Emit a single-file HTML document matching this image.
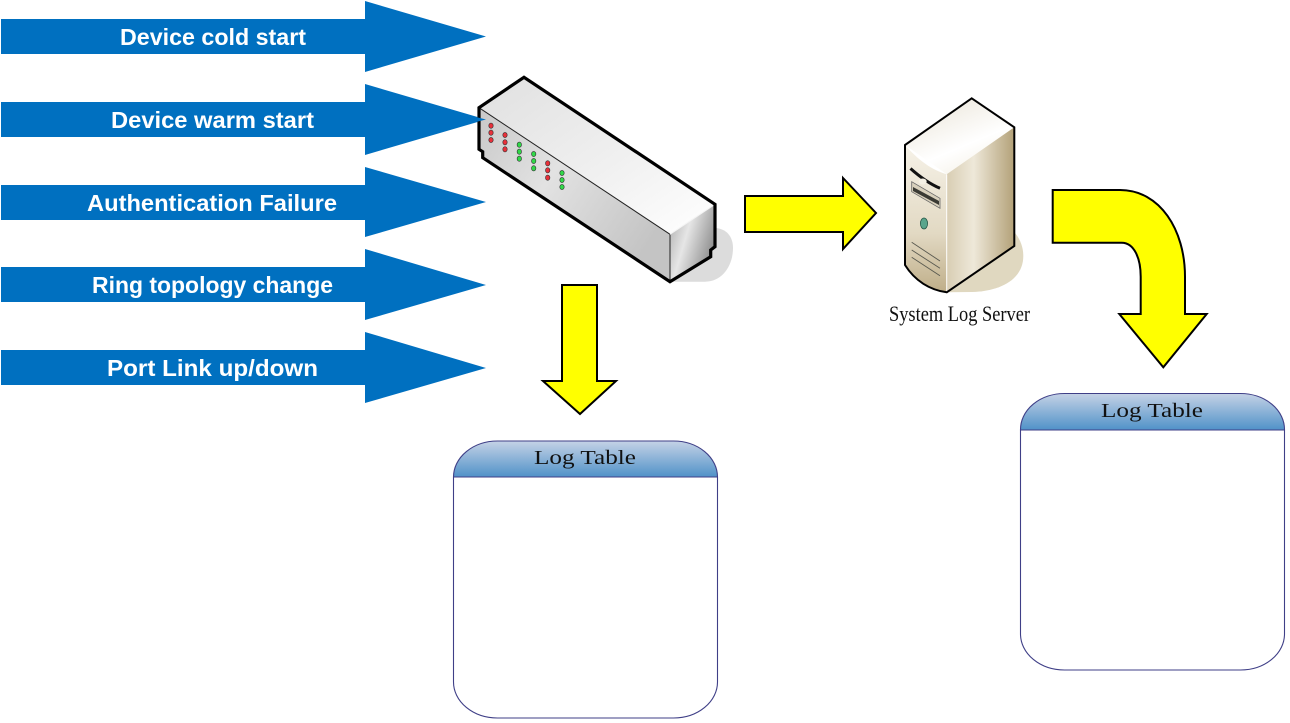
<!DOCTYPE html>
<html><head><meta charset="utf-8"><style>html,body{margin:0;padding:0;background:#fff;width:1290px;height:723px;overflow:hidden}svg{display:block}</style></head>
<body>
<svg width="1290" height="723" viewBox="0 0 1290 723" xmlns="http://www.w3.org/2000/svg">
<defs>
<linearGradient id="hdr" x1="0" y1="0" x2="0" y2="1"><stop offset="0" stop-color="#c5d2e6"/><stop offset="1" stop-color="#5092c8"/></linearGradient>
<linearGradient id="swTop" x1="0" y1="0" x2="1" y2="1"><stop offset="0" stop-color="#e0e0e0"/><stop offset="0.55" stop-color="#f0f0f0"/><stop offset="1" stop-color="#ffffff"/></linearGradient>
<linearGradient id="swFront" x1="0" y1="0" x2="1" y2="0.6"><stop offset="0" stop-color="#c8c8c8"/><stop offset="0.45" stop-color="#e2e2e2"/><stop offset="1" stop-color="#c4c4c4"/></linearGradient>
<linearGradient id="swEnd" x1="0" y1="0" x2="1" y2="0.5"><stop offset="0" stop-color="#a8a8a8"/><stop offset="0.45" stop-color="#e6e6e6"/><stop offset="1" stop-color="#8f8f8f"/></linearGradient>
<linearGradient id="srvTop" x1="0" y1="0" x2="0.6" y2="1"><stop offset="0" stop-color="#e8e2d4"/><stop offset="0.7" stop-color="#ffffff"/><stop offset="1" stop-color="#f6f3ea"/></linearGradient>
<linearGradient id="srvFront" x1="0" y1="0" x2="0" y2="1"><stop offset="0" stop-color="#f6f2e8"/><stop offset="0.6" stop-color="#e2d9c3"/><stop offset="1" stop-color="#bfae88"/></linearGradient>
<linearGradient id="srvSide" x1="0" y1="0" x2="1" y2="0"><stop offset="0" stop-color="#d8cdb3"/><stop offset="0.4" stop-color="#eee8d9"/><stop offset="1" stop-color="#b3a178"/></linearGradient>
</defs>

<!-- blue arrows -->
<g fill="#0070C0">
<polygon points="1,19 365,19 365,1 486,36.500 365,72 365,54 1,54"/>
<polygon points="1,102 365,102 365,84 486,119.500 365,155 365,137 1,137"/>
<polygon points="1,185 365,185 365,167 486,202 365,237 365,220 1,220"/>
<polygon points="1,267 365,267 365,249 486,285 365,320 365,302 1,302"/>
<polygon points="1,350 365,350 365,332 486,368 365,403 365,385 1,385"/>
</g>
<g fill="#fff" font-family="'Liberation Sans',sans-serif" font-weight="700" font-size="23">
<text x="120" y="45" textLength="186" lengthAdjust="spacingAndGlyphs">Device cold start</text>
<text x="111" y="128" textLength="203" lengthAdjust="spacingAndGlyphs">Device warm start</text>
<text x="87" y="211" textLength="250" lengthAdjust="spacingAndGlyphs">Authentication Failure</text>
<text x="92" y="293" textLength="241" lengthAdjust="spacingAndGlyphs">Ring topology change</text>
<text x="107" y="376" textLength="211" lengthAdjust="spacingAndGlyphs">Port Link up/down</text>
</g>

<!-- switch -->
<path d="M670,281.700 L705,281.700 C722,281.700 733,266 733,248 C733,236 726,229 716,228 Z" fill="#dcdcdc"/>
<polygon points="479,107.700 524,77.300 715,204.300 670,234.300" fill="url(#swTop)"/>
<polygon points="479,107.700 670,234.300 670,281.700 482.700,157.700 482.700,151.700 479,149.300" fill="url(#swFront)"/>
<polygon points="670,234.300 715,204.300 715,246.700 710.700,250 710.700,256.700 670,281.700" fill="url(#swEnd)"/>
<path d="M479,107.700 L670,234.300 V281.700" stroke="#222" stroke-width="1" fill="none"/>
<path d="M670,234.300 L715,204.300" stroke="#f4f4f4" stroke-width="1" fill="none"/>
<polygon points="479,107.700 524,77.300 715,204.300 715,246.700 710.700,250 710.700,256.700 670,281.700 482.700,157.700 482.700,151.700 479,149.300" fill="none" stroke="#000" stroke-width="3.200"/>
<polygon points="470,115.500 486,119.500 470,123.500" fill="#0070C0"/>
<g stroke="#333" stroke-width="0.6">
<g fill="#e8303a">
<ellipse cx="491" cy="125.700" rx="2.200" ry="2.600"/><ellipse cx="491" cy="132.700" rx="2.200" ry="2.600"/><ellipse cx="491" cy="140" rx="2.200" ry="2.600"/>
<ellipse cx="505" cy="135" rx="2.200" ry="2.600"/><ellipse cx="505" cy="142.300" rx="2.200" ry="2.600"/><ellipse cx="505" cy="149.300" rx="2.200" ry="2.600"/>
<ellipse cx="547.700" cy="163.300" rx="2.200" ry="2.600"/><ellipse cx="547.700" cy="170.300" rx="2.200" ry="2.600"/><ellipse cx="547.700" cy="177.700" rx="2.200" ry="2.600"/>
</g>
<g fill="#30d848">
<ellipse cx="519.300" cy="144.700" rx="2.200" ry="2.600"/><ellipse cx="519.300" cy="151.700" rx="2.200" ry="2.600"/><ellipse cx="519.300" cy="158.700" rx="2.200" ry="2.600"/>
<ellipse cx="533.700" cy="154" rx="2.200" ry="2.600"/><ellipse cx="533.700" cy="161" rx="2.200" ry="2.600"/><ellipse cx="533.700" cy="168.300" rx="2.200" ry="2.600"/>
<ellipse cx="562" cy="173" rx="2.200" ry="2.600"/><ellipse cx="562" cy="180" rx="2.200" ry="2.600"/><ellipse cx="562" cy="187" rx="2.200" ry="2.600"/>
</g>
</g>

<!-- server -->
<path d="M946.700,292.300 L972,292 C1003,291 1023.300,278 1023.300,256 C1023.300,247 1020,239 1015,233 Z" fill="#e0d8c0"/>
<polygon points="905,145 971.700,98.300 1014.300,127.300 946.700,174.300" fill="url(#srvTop)"/>
<path d="M905,145 C918,160 932,170 946.700,174.300 V292.300 C930,289 915,280 905,265 Z" fill="url(#srvFront)"/>
<polygon points="946.700,174.300 1014.300,127.300 1014.300,246 946.700,292.300" fill="url(#srvSide)"/>
<path d="M946.700,174.300 V292.300" stroke="#fff" stroke-width="1"/>
<path d="M905,145 L971.700,98.300 L1014.300,127.300 V246 L946.700,292.300 C930,290 915,281 905,265 Z" fill="none" stroke="#000" stroke-width="2"/>
<path d="M910.500,168.500 C920,177 930,184 940,188.300" stroke="#111" stroke-width="3" fill="none"/>
<path d="M911.700,181.700 L940,198.300 V208.300 L911.700,191.700 Z" fill="#d8d0bc" stroke="#666" stroke-width="0.8"/>
<path d="M913,187 L939,201 V205 L913,191 Z" fill="#3a3a34"/>
<ellipse cx="922.700" cy="181.500" rx="4" ry="3" fill="#f4f0e4"/>
<ellipse cx="924" cy="223.500" rx="3.600" ry="5.500" fill="#5aa58c" stroke="#2a5a4a" stroke-width="0.8"/>
<path d="M911.700,242.300 L940,261 M911.700,250 L940,268.300 M911.700,257.300 L940,275.700" stroke="#5a5a50" stroke-width="0.9" fill="none"/>
<text x="889" y="321" font-family="'Liberation Serif',serif" font-size="22" fill="#111" textLength="141" lengthAdjust="spacingAndGlyphs">System Log Server</text>

<!-- yellow arrows -->
<g fill="#ffff00" stroke="#000" stroke-width="2">
<polygon points="562,285 597,285 597,381 616,381 580,414 543,381 562,381"/>
<polygon points="745,196 843,196 843,178 876,213 843,249 843,232 745,232"/>
<path d="M1052.700,190 L1120,190 C1160,190 1185,230 1185,276.700 L1185,314 L1206.700,314 L1163.300,367.300 L1119.300,314 L1140.700,314 L1140.700,276.700 C1140.700,258 1134,242.700 1121.700,242.700 L1052.700,242.700 Z"/>
</g>

<!-- log tables -->
<g>
<path d="M453.500,477 A44,36 0 0 1 497.500,441 H673.500 A44,36 0 0 1 717.500,477 Z" fill="url(#hdr)"/>
<path d="M453.500,477 H717.500 V682 A44,36 0 0 1 673.500,718 H497.500 A44,36 0 0 1 453.500,682 Z" fill="#fff"/>
<path d="M453.500,477 A44,36 0 0 1 497.500,441 H673.500 A44,36 0 0 1 717.500,477 V682 A44,36 0 0 1 673.500,718 H497.500 A44,36 0 0 1 453.500,682 Z M453.500,477 H717.500" fill="none" stroke="#3f3f87" stroke-width="1.100"/>
<text x="534" y="464" font-family="'Liberation Serif',serif" font-size="20" fill="#111" textLength="102" lengthAdjust="spacingAndGlyphs">Log Table</text>
</g>
<g>
<path d="M1020.500,430 A44,36 0 0 1 1064.500,393.500 H1240.500 A44,36 0 0 1 1284.500,430 Z" fill="url(#hdr)"/>
<path d="M1020.500,430 H1284.500 V634 A44,36 0 0 1 1240.500,670 H1064.500 A44,36 0 0 1 1020.500,634 Z" fill="#fff"/>
<path d="M1020.500,430 A44,36 0 0 1 1064.500,393.500 H1240.500 A44,36 0 0 1 1284.500,430 V634 A44,36 0 0 1 1240.500,670 H1064.500 A44,36 0 0 1 1020.500,634 Z M1020.500,430 H1284.500" fill="none" stroke="#3f3f87" stroke-width="1.100"/>
<text x="1101" y="417" font-family="'Liberation Serif',serif" font-size="20" fill="#111" textLength="102" lengthAdjust="spacingAndGlyphs">Log Table</text>
</g>
</svg>
</body></html>
